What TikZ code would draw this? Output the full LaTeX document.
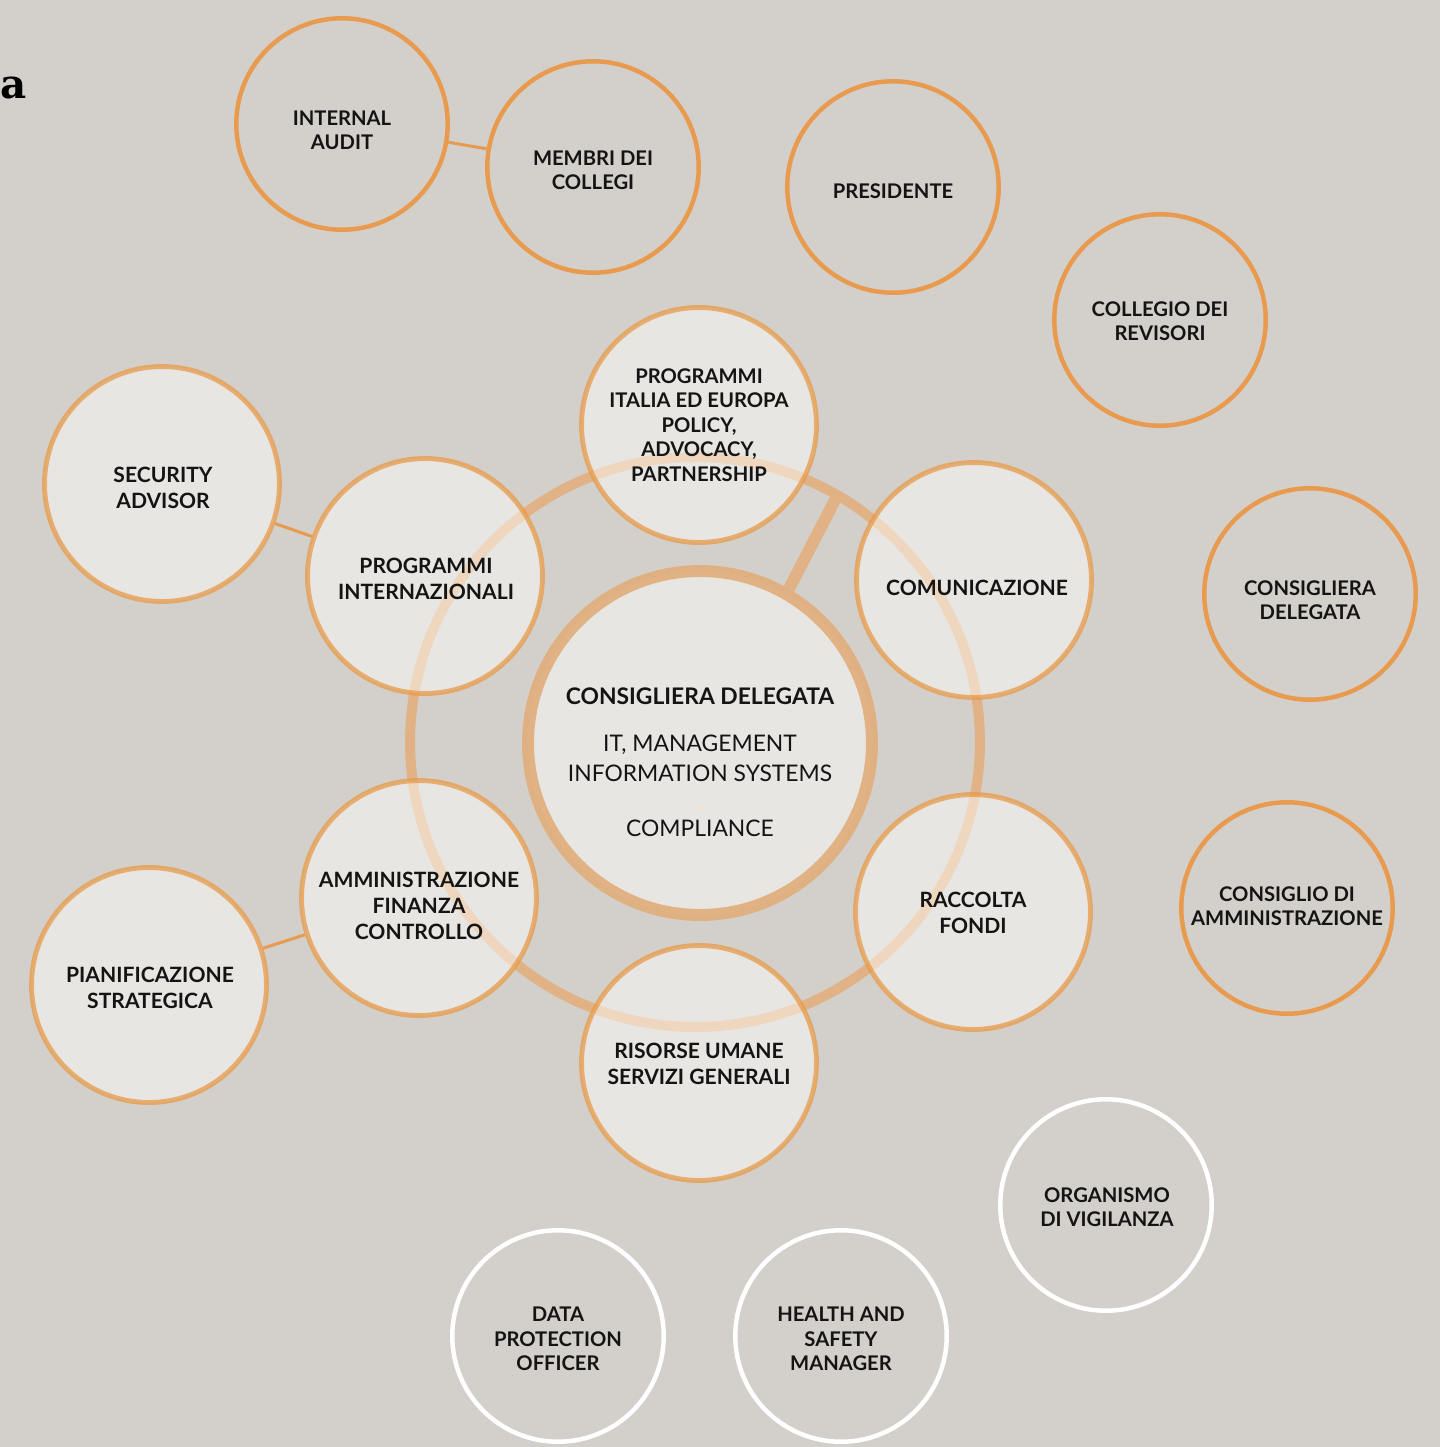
\documentclass[tikz,border=0pt]{standalone}
\usepackage{fontspec}
\setmainfont{Lato}
\newfontfamily\slab{DejaVu Serif}
\usetikzlibrary{positioning}
\definecolor{bg}{HTML}{D3D0CB}
\definecolor{org}{HTML}{E89B4E}
\definecolor{tan}{HTML}{E79B4A}
\definecolor{ring}{HTML}{E0B285}
\definecolor{ink}{HTML}{141414}
\pgfdeclarelayer{back}
\pgfsetlayers{back,main}

\begin{document}
\begin{tikzpicture}[x=0.02cm,y=-0.02cm,
  lbl/.style={font=\fontsize{11.5}{13.9}\selectfont\bfseries, text=ink, align=center, inner sep=0pt},
  blbl/.style={lbl, font=\fontsize{12}{14.6}\selectfont\bfseries},
  outer/.style={circle, draw=org, line width=2.55pt, minimum size=4.23cm, inner sep=0pt},
  free/.style={outer, draw=white},
  inner/.style={circle, draw=tan, draw opacity=.75, fill=white, fill opacity=.48,
    line width=2.8pt, minimum size=4.7cm, inner sep=0pt},
  link/.style={draw=org, line width=1.7pt}]
\begin{pgfonlayer}{back}
\fill [bg] (0,0) rectangle (1440,1447);
\end{pgfonlayer}
\useasboundingbox (0,0) rectangle (1440,1447);
\clip (0,0) rectangle (1440,1447);
% title, cut at the border
\node [font=\slab\bfseries\fontsize{23}{23}\selectfont, anchor=base east, inner sep=0pt] (ttl) at (27,98) {a};
% outer ring of bodies
\node [outer] (ia) at (342,124) {};
\node [outer] (mc) at (593,167) {};
\node [outer] (pr) at (893,187) {};
\node [outer] (cr) at (1160,320) {};
\node [outer] (cdx) at (1310,594) {};
\node [outer] (ca) at (1287,908) {};
\node [free] (ov) at (1106,1205) {};
\node [free] (hs) at (841,1336) {};
\node [free] (dp) at (558,1336) {};
\node [lbl] (iat) at (342,130) {INTERNAL\\AUDIT};
\node [lbl] (mct) at (593,170) {MEMBRI DEI\\COLLEGI};
\node [lbl] (prt) at (893,191) {PRESIDENTE};
\node [lbl] (crt) at (1160,321) {COLLEGIO DEI\\REVISORI};
\node [lbl] (cdxt) at (1310,600) {CONSIGLIERA\\DELEGATA};
\node [lbl] (cat) at (1287,906) {CONSIGLIO DI\\AMMINISTRAZIONE};
\node [lbl] (ovt) at (1107,1207) {ORGANISMO\\DI VIGILANZA};
\node [lbl] (hst) at (841,1339) {HEALTH AND\\SAFETY\\MANAGER};
\node [lbl] (dpt) at (558,1339) {DATA\\PROTECTION\\OFFICER};
% areas
\node [inner] (pie) at (699,425) {};
\node [inner] (sa) at (162,484) {};
\node [inner] (pi) at (425,576) {};
\node [inner] (com) at (974,580) {};
\node [inner] (afc) at (419,898) {};
\node [inner] (ps) at (149,985) {};
\node [inner] (rf) at (973,912) {};
\node [inner] (ru) at (699,1063) {};
\node [lbl] (piet) at (699,425) {PROGRAMMI\\ITALIA ED EUROPA\\POLICY,\\ADVOCACY,\\PARTNERSHIP};
\node [blbl] (sat) at (163,488) {SECURITY\\ADVISOR};
\node [blbl] (pit) at (426,579) {PROGRAMMI\\INTERNAZIONALI};
\node [blbl] (comt) at (977,588) {COMUNICAZIONE};
\node [blbl] (afct) at (419,906) {AMMINISTRAZIONE\\FINANZA\\CONTROLLO};
\node [blbl] (pst) at (150,988) {PIANIFICAZIONE\\STRATEGICA};
\node [blbl] (rft) at (973,913) {RACCOLTA\\FONDI};
\node [blbl] (rut) at (699,1064) {RISORSE UMANE\\SERVIZI GENERALI};
% centre
\node [circle, draw=ring!80!tan, draw opacity=.9, fill=white, fill opacity=.48, line width=6.8pt,
  minimum size=6.88cm, inner sep=0pt] (cd) at (700,743) {};
\node [text=ink, align=center, font=\fontsize{13}{17}\selectfont] (cdt) at (700,762)
  {\textbf{CONSIGLIERA DELEGATA}\\[10pt]IT, MANAGEMENT\\INFORMATION SYSTEMS\\[14pt]COMPLIANCE};
\fill [ring!35!white] (697,805) -- (703,805) -- (700,811) -- cycle;
% ring and spoke
\coordinate (rc) at (695,742);
\coordinate (sp) at (837.5,495.2);
\begin{pgfonlayer}{back}
\draw [ring, line width=5.7pt] (rc) circle [radius=5.7cm];
\draw [ring, line width=6.8pt] (cd.60) -- (sp);
\end{pgfonlayer}
% links
\draw [link] (ia) -- (mc);
\draw [link] (sa) -- (pi);
\draw [link] (ps) -- (afc);
\end{tikzpicture}
\end{document}
